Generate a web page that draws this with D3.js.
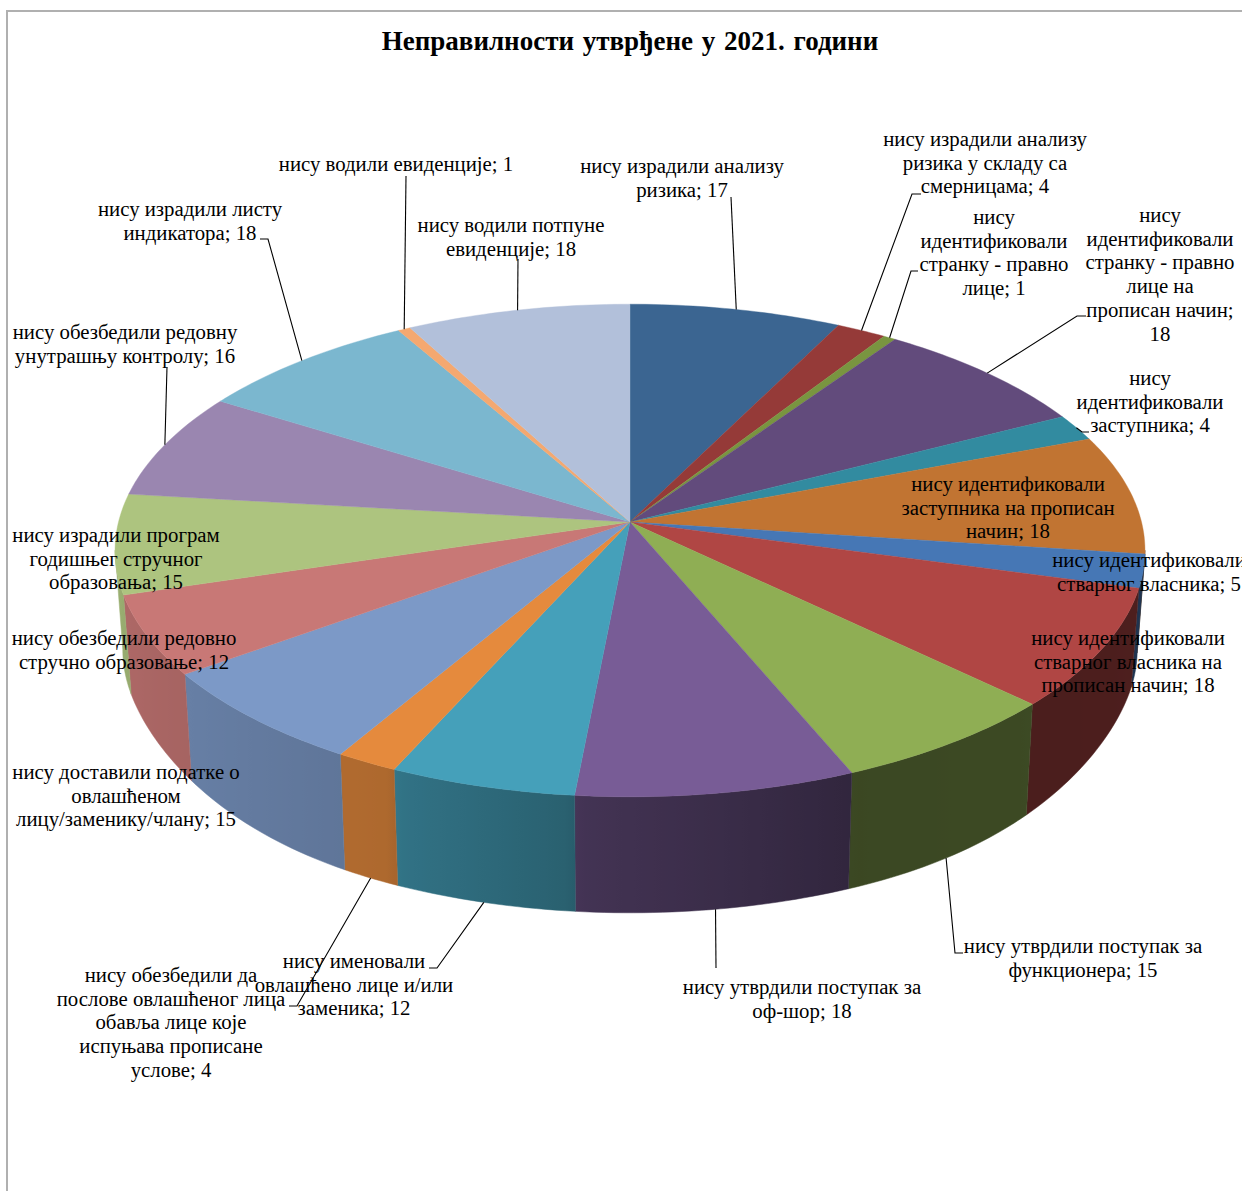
<!DOCTYPE html>
<html>
<head>
<meta charset="utf-8">
<script src="https://cdn.jsdelivr.net/npm/d3@7"></script>
<style>
  html, body { margin: 0; padding: 0; background: #fff; overflow: hidden; }
  svg { display: block; }
  text { font-family: "Liberation Serif", serif; fill: #000; }
</style>
</head>
<body>
<div id="chart"></div>
<script>
const chartTitle = "Неправилности утврђене у 2021. години";

const categories = [
  "нису израдили анализу ризика",
  "нису израдили анализу ризика у складу са смерницама",
  "нису идентификовали странку - правно лице",
  "нису идентификовали странку - правно лице на прописан начин",
  "нису идентификовали заступника",
  "нису идентификовали заступника на прописан начин",
  "нису идентификовали стварног власника",
  "нису идентификовали стварног власника на прописан начин",
  "нису утврдили поступак за функционера",
  "нису утврдили поступак за оф-шор",
  "нису именовали овлашћено лице и/или заменика",
  "нису обезбедили да послове овлашћеног лица обавља лице које испуњава прописане услове",
  "нису доставили податке о овлашћеном лицу/заменику/члану",
  "нису обезбедили редовно стручно образовање",
  "нису израдили програм годишњег стручног образовања",
  "нису обезбедили редовну унутрашњу контролу",
  "нису израдили листу индикатора",
  "нису водили евиденције",
  "нису водили потпуне евиденције"
];
const values = [17, 4, 1, 18, 4, 18, 5, 18, 15, 18, 12, 4, 15, 12, 15, 16, 18, 1, 18];
const colors = [
  "#3b6591", "#953a38", "#799540", "#624b7c", "#328ba0", "#c17432", "#4677b5",
  "#b04644", "#8fae54", "#785c96", "#45a0ba", "#e58a3d", "#7c99c7", "#c87876",
  "#adc47f", "#9a86b0", "#7bb7cf", "#f4a870", "#b2c0da"
];

// Words per line of each label, once "; value" is added
const labelWrap = [
  [3, 2], [3, 4, 2], [1, 1, 3, 2], [1, 1, 3, 2, 2, 1], [1, 1, 2], [2, 3, 2], [2, 3],
  [2, 3, 3], [4, 2], [4, 2], [2, 3, 2], [3, 3, 3, 2, 2], [4, 1, 2], [3, 3], [3, 2, 2],
  [3, 3], [3, 2], [4], [3, 2]
];
// Label centre x and first line centre y
const labelPos = [
  [682, 166], [985, 139], [994, 217], [1160, 215], [1150, 378], [1008, 484], [1149, 560],
  [1128, 638], [1083, 946], [802, 987], [354, 961], [171, 975], [126, 772], [124, 638],
  [116, 535], [125, 332], [190, 209], [396, 164], [511, 225]
];
// Leader line points on the label side, the rim end is worked out from the slice
const leaders = {
  0: [[731, 197]],
  1: [[921, 194], [912, 194]],
  2: [[918, 271], [911, 271]],
  3: [[1086, 316], [1077, 316]],
  4: [[1089, 432], [1082, 432]],
  8: [[963, 953], [955, 953]],
  9: [[716, 968]],
  10: [[429, 968], [437, 968]],
  11: [[289, 1006], [297, 1006]],
  15: [[167, 367]],
  16: [[260, 239], [268, 239]],
  17: [[406, 176]],
  18: [[518, 259]]
};

const W = 1242, H = 1191;
const lineStep = 23.7;

const svg = d3.select("#chart").append("svg").attr("width", W).attr("height", H);
const defs = svg.append("defs");

// Chart frame runs off the right and bottom of the page
svg.append("rect")
  .attr("x", 7).attr("y", 11)
  .attr("width", W + 40).attr("height", H + 40)
  .attr("fill", "#fff").attr("stroke", "#b0b0b0").attr("stroke-width", 2);

svg.append("text")
  .attr("x", 630).attr("y", 50)
  .attr("text-anchor", "middle")
  .style("font-size", "27px").style("font-weight", "bold")
  .style("word-spacing", "2px")
  .text(chartTitle);

// Perspective of the pie plane
const cx = 630, cy = 522, radX = 511.5, radY = 243, persp = 0.1157;
const rimT = d3.scaleLinear().domain([70, 250]).range([0, 1]).clamp(true);
const rimDrop = py => 99 + 17 * d3.easeSinInOut(rimT(py));

function topPoint(a) {
  const s = 1 / (1 + persp * Math.cos(a));
  return [cx + radX * Math.sin(a) * s, cy - radY * Math.cos(a) * s];
}
function bottomPoint(a) {
  const [x, y] = topPoint(a);
  return [cx + (x - cx) * 0.985, y + rimDrop(y - cy)];
}

const rad = d => d * Math.PI / 180;
const frontFrom = rad(96.6), frontTo = rad(263.4);
const wallShade = d3.scaleLinear()
  .domain([105, 157, 185, 186, 204, 205, 211, 234, 253, 265].map(rad))
  .range([0.44, 0.41, 0.56, 0.6, 0.72, 0.76, 0.77, 0.83, 0.87, 0.95]);

const arcs = d3.pie().sort(null).startAngle(0).endAngle(2 * Math.PI).value(d => d)(values);
const line = d3.line();

function sampleAngles(a0, a1) {
  const n = Math.max(2, Math.ceil((a1 - a0) / rad(1)));
  return d3.range(n + 1).map(i => a0 + (a1 - a0) * i / n);
}

function shaded(color, k) {
  const c = d3.rgb(color);
  return d3.rgb(c.r * k, c.g * k, c.b * k).formatHex();
}

// Outer wall, front part only
const walls = svg.append("g");
arcs.forEach((d, i) => {
  const a0 = Math.max(d.startAngle, frontFrom), a1 = Math.min(d.endAngle, frontTo);
  if (a1 <= a0) return;
  const x0 = topPoint(a0)[0], x1 = topPoint(a1)[0];
  const angles = sampleAngles(a0, a1);
  const grad = defs.append("linearGradient")
    .attr("id", "wall" + i)
    .attr("gradientUnits", "userSpaceOnUse")
    .attr("x1", x0).attr("x2", x1).attr("y1", 0).attr("y2", 0);
  angles.forEach(a => {
    grad.append("stop")
      .attr("offset", (topPoint(a)[0] - x0) / (x1 - x0))
      .attr("stop-color", shaded(colors[i], wallShade(a)));
  });
  const pts = angles.map(topPoint).concat(angles.slice().reverse().map(bottomPoint));
  walls.append("path")
    .attr("d", line(pts) + "Z")
    .attr("fill", `url(#wall${i})`)
    .attr("stroke", `url(#wall${i})`)
    .attr("stroke-width", 0.5);
});

// Top faces
svg.append("g").selectAll("path")
  .data(arcs)
  .join("path")
  .attr("d", d => line([[cx, cy]].concat(sampleAngles(d.startAngle, d.endAngle).map(topPoint))) + "Z")
  .attr("fill", (d, i) => colors[i])
  .attr("stroke", (d, i) => colors[i])
  .attr("stroke-width", 0.4);

// Leader lines
Object.keys(leaders).forEach(k => {
  const d = arcs[+k];
  const mid = (d.startAngle + d.endAngle) / 2;
  const isFront = mid > frontFrom && mid < frontTo;
  svg.append("path")
    .attr("d", line(leaders[k].concat([isFront ? bottomPoint(mid) : topPoint(mid)])))
    .attr("fill", "none")
    .attr("stroke", "#000")
    .attr("stroke-width", 1.1);
});

// Data labels
const labels = svg.append("g");
categories.forEach((name, i) => {
  const words = `${name}; ${values[i]}`.split(" ");
  let used = 0;
  const rows = labelWrap[i].map(n => {
    const row = words.slice(used, used + n).join(" ");
    used += n;
    return row;
  });
  const text = labels.append("text")
    .attr("text-anchor", "middle")
    .style("font-size", "20.8px");
  rows.forEach((row, r) => {
    text.append("tspan")
      .attr("x", labelPos[i][0])
      .attr("y", labelPos[i][1] + r * lineStep + 7)
      .text(row);
  });
});
</script>
</body>
</html>
